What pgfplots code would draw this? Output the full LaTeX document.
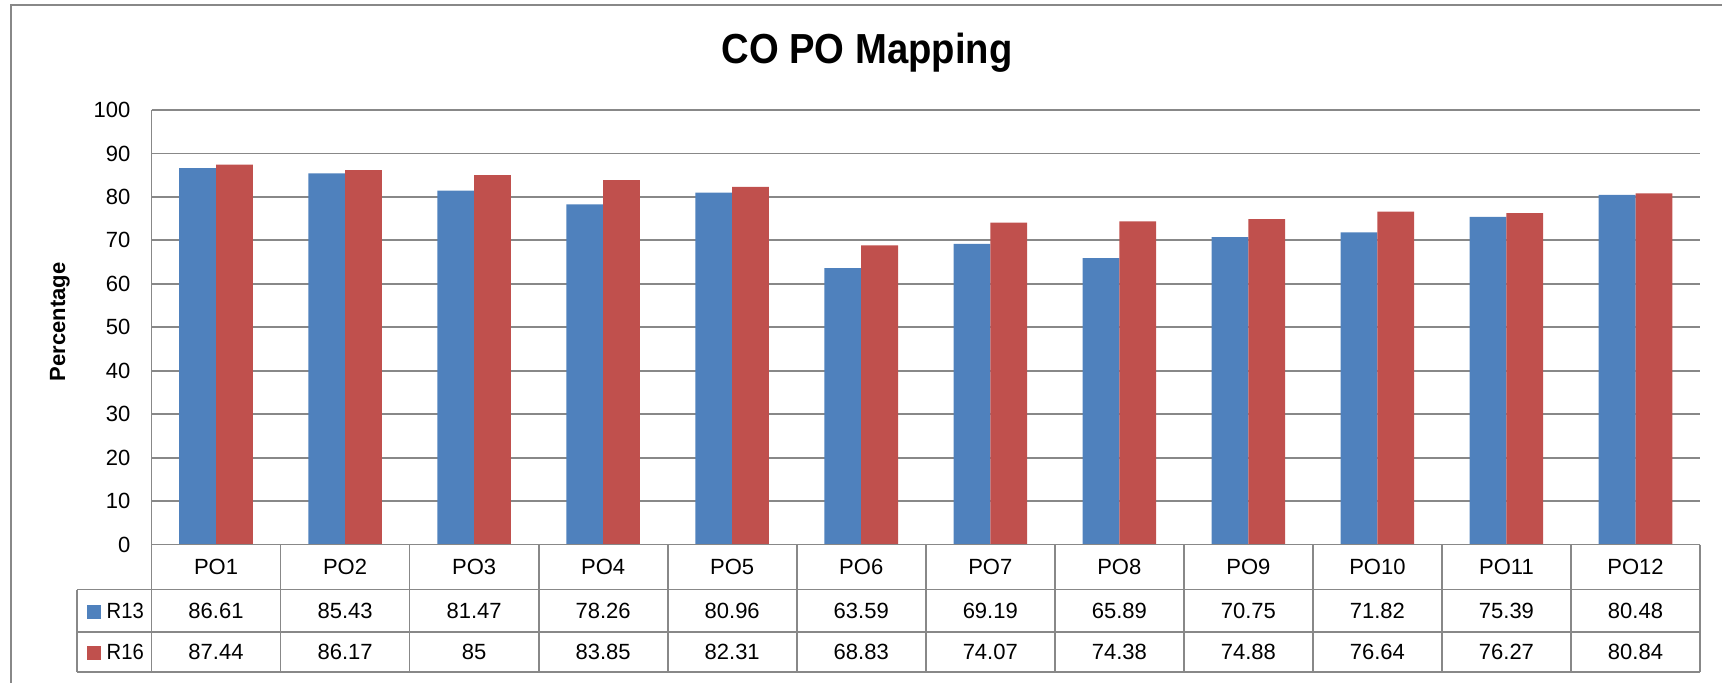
\documentclass[border=0pt]{standalone}
\usepackage{fontspec}
\setmainfont{Liberation Sans}
\newfontfamily\titlefont{Liberation Sans}[FakeStretch=0.91]
\newfontfamily\narrowfont{Liberation Sans}[FakeStretch=0.92]
\usepackage{pgfplots}
\pgfplotsset{compat=1.18}
\usepackage{pgfplotstable}
\definecolor{r13}{HTML}{4F81BD}
\definecolor{r16}{HTML}{C0504D}
\definecolor{gridc}{HTML}{888888}
\tikzset{cell/.style={font=\fontsize{11}{13}\selectfont, anchor=center}}

\pgfplotstableread{
x r13 r16
0 86.61 87.44
1 85.43 86.17
2 81.47 85
3 78.26 83.85
4 80.96 82.31
5 63.59 68.83
6 69.19 74.07
7 65.89 74.38
8 70.75 74.88
9 71.82 76.64
10 75.39 76.27
11 80.48 80.84
}\data

\begin{document}
\begin{tikzpicture}
\path[use as bounding box] (0,0) rectangle (861pt,341.5pt);
\draw[gridc, line width=1pt] (5.25pt,0) -- (5.25pt,338.75pt) -- (861pt,338.75pt);
\node[font=\titlefont\bfseries\fontsize{21}{25}\selectfont] at (433.5pt,315pt) {CO PO Mapping};
\node[rotate=90, font=\bfseries\fontsize{11}{13}\selectfont] at (30pt,180.5pt) {Percentage};
\begin{axis}[
  at={(75.75pt,69.2pt)}, anchor=south west,
  scale only axis, width=774.25pt, height=217.3pt,
  xmin=-0.5, xmax=11.5, ymin=0, ymax=100,
  ytick={0,10,...,100}, xtick=\empty,
  ymajorgrids, grid style={gridc, line width=0.9pt},
  axis line style={draw=none},
  major tick length=0pt, clip=false,
  yticklabel style={font=\fontsize{11}{13}\selectfont, xshift=-7pt},
  /pgf/number format/assume math mode=true,
]
\addplot[ybar, bar width=0.285, bar shift=-0.1425, fill=r13, draw=none] table[x=x,y=r13]{\data};
\addplot[ybar, bar width=0.285, bar shift=0.1425, fill=r16, draw=none] table[x=x,y=r16]{\data};

% table grid
\draw[gridc, line width=0.9pt] (axis cs:-0.5,100) -- (axis cs:-0.5,-29.3);
\draw[gridc, line width=0.9pt] (axis cs:-0.5,0) -- (axis cs:11.5,0);
\draw[gridc, line width=0.9pt] (axis cs:-1.078,-10.35) -- (axis cs:11.5,-10.35);
\draw[gridc, line width=0.9pt] (axis cs:-1.078,-20.2) -- (axis cs:11.5,-20.2);
\draw[gridc, line width=0.9pt] (axis cs:-1.078,-29.3) -- (axis cs:11.5,-29.3);
\draw[gridc, line width=0.9pt] (axis cs:-1.078,-10.35) -- (axis cs:-1.078,-29.3);
\pgfplotsinvokeforeach{0.5,1.5,2.5,3.5,4.5,5.5,6.5,7.5,8.5,9.5,10.5,11.5}{
  \draw[gridc, line width=0.9pt] (axis cs:#1,0) -- (axis cs:#1,-29.3);
}
\pgfplotsinvokeforeach{0,...,11}{
  \node[cell] at (axis cs:#1,-5.15) {PO\the\numexpr#1+1\relax};
}
\node[cell, anchor=west, inner sep=0pt, font=\narrowfont\fontsize{11}{13}\selectfont] at (axis cs:-1.005,-15.3) {\textcolor{r13}{\rule{7pt}{7pt}}\hspace{3pt}R13};
\node[cell, anchor=west, inner sep=0pt, font=\narrowfont\fontsize{11}{13}\selectfont] at (axis cs:-1.005,-24.8) {\textcolor{r16}{\rule{7pt}{7pt}}\hspace{3pt}R16};

\node[cell] at (axis cs:0,-15.3) {86.61};
\node[cell] at (axis cs:1,-15.3) {85.43};
\node[cell] at (axis cs:2,-15.3) {81.47};
\node[cell] at (axis cs:3,-15.3) {78.26};
\node[cell] at (axis cs:4,-15.3) {80.96};
\node[cell] at (axis cs:5,-15.3) {63.59};
\node[cell] at (axis cs:6,-15.3) {69.19};
\node[cell] at (axis cs:7,-15.3) {65.89};
\node[cell] at (axis cs:8,-15.3) {70.75};
\node[cell] at (axis cs:9,-15.3) {71.82};
\node[cell] at (axis cs:10,-15.3) {75.39};
\node[cell] at (axis cs:11,-15.3) {80.48};

\node[cell] at (axis cs:0,-24.8) {87.44};
\node[cell] at (axis cs:1,-24.8) {86.17};
\node[cell] at (axis cs:2,-24.8) {85};
\node[cell] at (axis cs:3,-24.8) {83.85};
\node[cell] at (axis cs:4,-24.8) {82.31};
\node[cell] at (axis cs:5,-24.8) {68.83};
\node[cell] at (axis cs:6,-24.8) {74.07};
\node[cell] at (axis cs:7,-24.8) {74.38};
\node[cell] at (axis cs:8,-24.8) {74.88};
\node[cell] at (axis cs:9,-24.8) {76.64};
\node[cell] at (axis cs:10,-24.8) {76.27};
\node[cell] at (axis cs:11,-24.8) {80.84};
\end{axis}
\end{tikzpicture}
\end{document}
